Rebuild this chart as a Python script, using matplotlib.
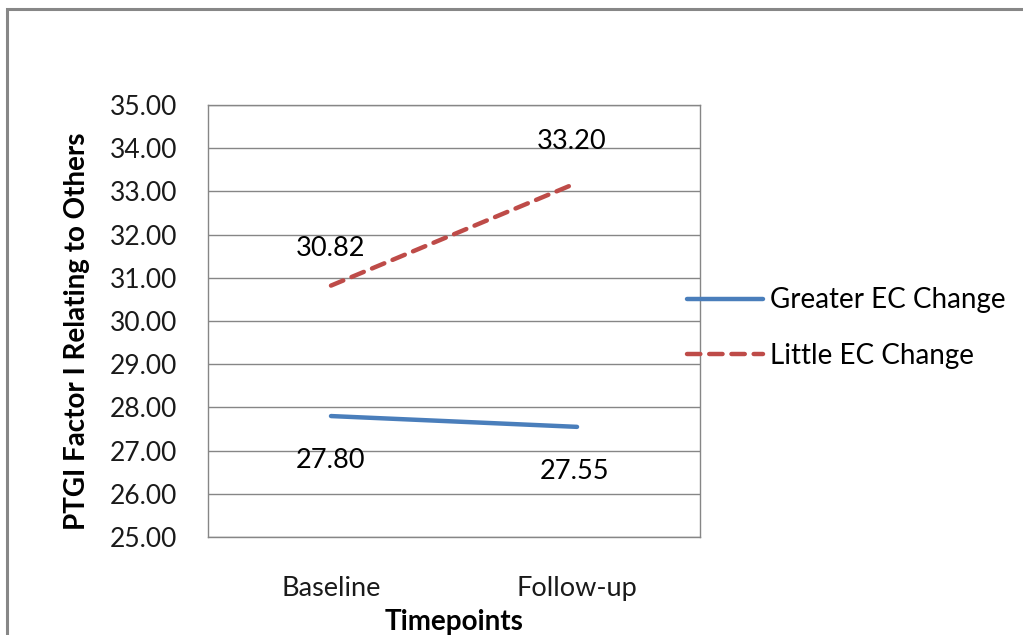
import matplotlib.pyplot as plt
from matplotlib.patches import Rectangle

timepoints = ['Baseline', 'Follow-up']
greater_ec = [27.80, 27.55]
little_ec = [30.82, 33.20]
y_ticks = [25, 26, 27, 28, 29, 30, 31, 32, 33, 34, 35]

plt.rcParams['font.family'] = ['Lato', 'DejaVu Sans']

fig = plt.figure(figsize=(10.23, 6.35), dpi=100)
ax = fig.add_axes([0.2033, 0.1543, 0.481, 0.6803])

# outer chart border (cut off at right and bottom)
fig.patches.append(Rectangle((7 / 1023, -0.1), 1.2, 1.1 - 9 / 635,
                             transform=fig.transFigure, fill=False,
                             edgecolor='#878787', lw=2.2, zorder=0))

x = list(range(len(timepoints)))
ax.plot(x, greater_ec, color='#4A7EBB', lw=3.2, solid_capstyle='round',
        label='Greater EC Change', zorder=3)
ax.plot(x, little_ec, color='#BE4B48', lw=3.2, dashes=(3.0, 2.0),
        dash_capstyle='round', label='Little EC Change', zorder=3)

# data labels
lbl = dict(textcoords='offset points', ha='center', va='center', fontsize=19.5)
ax.annotate(f'{little_ec[0]:.2f}', (x[0], little_ec[0]), xytext=(0, 27), **lbl)
ax.annotate(f'{little_ec[1]:.2f}', (x[1], little_ec[1]), xytext=(-4, 30), **lbl)
ax.annotate(f'{greater_ec[0]:.2f}', (x[0], greater_ec[0]), xytext=(0, -32), **lbl)
ax.annotate(f'{greater_ec[1]:.2f}', (x[1], greater_ec[1]), xytext=(-2, -32), **lbl)

ax.set_xlim(-0.5, 1.5)
ax.set_ylim(25, 35)
ax.set_yticks(y_ticks)
ax.set_yticklabels([f'{v:.2f}' for v in y_ticks])
ax.set_xticks(x)
ax.set_xticklabels(timepoints)
ax.tick_params(axis='y', length=0, pad=22, labelsize=19, colors='#1a1a1a')
ax.tick_params(axis='x', length=0, pad=28, labelsize=19.5, colors='#1a1a1a')
ax.grid(axis='y', color='#868686', lw=1)
ax.set_axisbelow(True)
for s in ax.spines.values():
    s.set_color('#868686')
    s.set_linewidth(1)

ax.set_ylabel('PTGI Factor I Relating to Others', fontsize=20,
              fontweight='bold')
ax.yaxis.set_label_coords(-0.24, 0.477)
ax.set_xlabel('Timepoints', fontsize=20, fontweight='bold', labelpad=6)

fig.legend(loc='center left', bbox_to_anchor=(662 / 1023, 1 - 328 / 635),
           frameon=False, fontsize=20, handlelength=2.75, handletextpad=0.25,
           labelspacing=1.05)

fig.savefig('out.png', dpi=100)
